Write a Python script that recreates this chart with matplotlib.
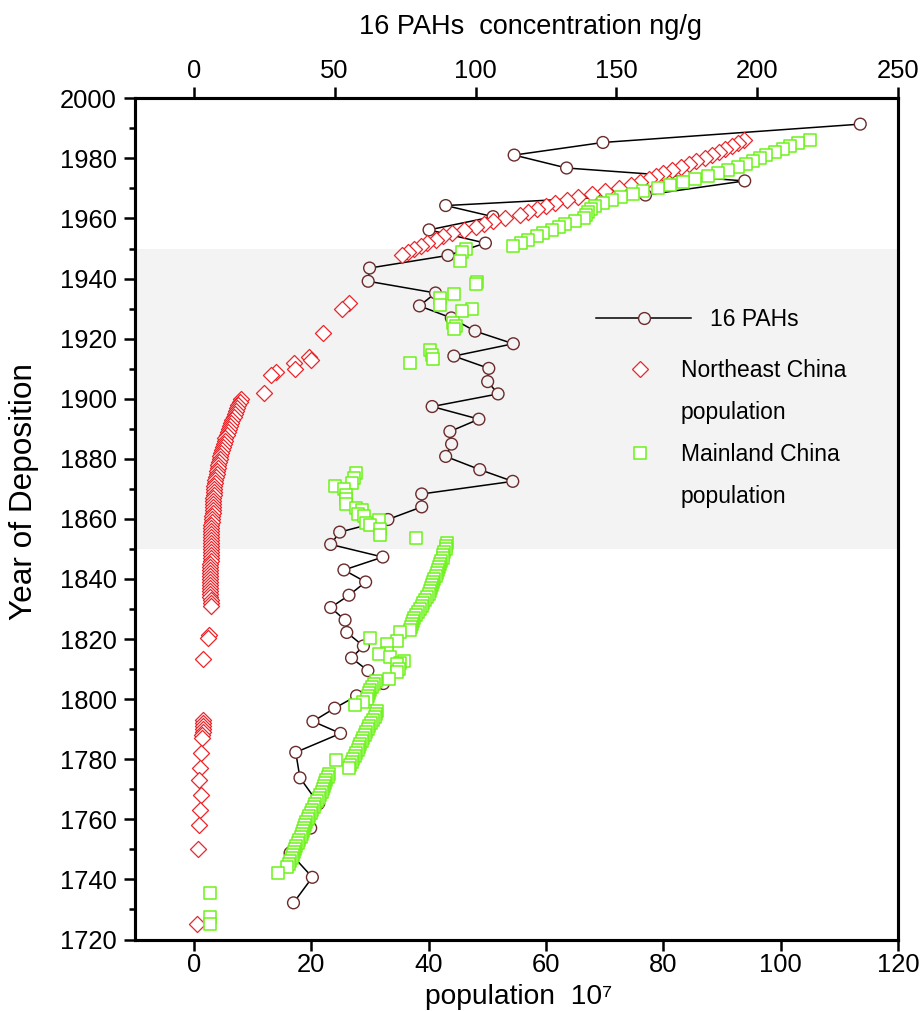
import numpy as np
import matplotlib
matplotlib.use("Agg")
import matplotlib.pyplot as plt
from matplotlib.lines import Line2D

plt.rcParams['font.family'] = ['Liberation Sans', 'DejaVu Sans']

# ---------------- data ----------------
# 16 PAHs concentration (ng/g) vs year of deposition (core order, top -> bottom)
pah_year = [1991.4, 1985.3, 1981.1, 1976.8, 1972.5, 1967.8, 1964.3, 1960.6, 1956.2, 1951.8,
            1947.7, 1943.5, 1939.1, 1935.2, 1930.9, 1926.9, 1922.5, 1918.3, 1914.2, 1910.1,
            1905.7, 1901.6, 1897.4, 1893.2, 1889.1, 1884.9, 1880.8, 1876.4, 1872.5, 1868.3,
            1864.0, 1859.8, 1855.6, 1851.5, 1847.3, 1843.0, 1839.0, 1834.6, 1830.5, 1826.3,
            1822.2, 1817.7, 1813.7, 1809.5, 1805.2, 1801.1, 1797.0, 1792.6, 1788.6, 1782.3,
            1773.8, 1765.2, 1757.1, 1748.8, 1740.7, 1732.2]
pah_conc = [236.5, 145.2, 113.7, 132.3, 195.5, 160.3, 89.4, 106.2, 83.5, 103.5,
            90.2, 62.4, 61.9, 85.8, 80.1, 91.4, 99.8, 113.4, 92.3, 104.7,
            104.3, 108.0, 84.6, 101.2, 90.9, 91.5, 89.4, 101.5, 113.2, 80.9,
            80.9, 68.9, 51.8, 48.6, 67.1, 53.3, 61.0, 55.1, 48.6, 53.7,
            54.3, 60.2, 56.0, 61.8, 67.3, 57.8, 50.0, 42.3, 52.1, 36.2,
            37.7, 44.3, 41.5, 34.2, 42.1, 35.4]

# Northeast China population (10^7)
ne_year = [1986, 1985, 1984, 1983, 1982, 1981, 1980, 1979, 1978, 1977,
           1976, 1975, 1974, 1973, 1972, 1971, 1970, 1969, 1968, 1967,
           1966, 1965, 1964, 1963, 1962, 1961, 1960, 1959, 1958, 1957,
           1956, 1955, 1954, 1953, 1952, 1951, 1950, 1949, 1948,
           1932, 1930, 1922, 1914, 1913, 1912, 1910, 1909, 1908, 1902,
           1900, 1899, 1898, 1897, 1896, 1895, 1894, 1893, 1892, 1891,
           1890, 1889, 1888, 1887, 1886, 1885, 1884, 1883, 1882, 1881,
           1880, 1879, 1878, 1877, 1876, 1875, 1874, 1873, 1872, 1871,
           1870, 1869, 1868, 1867, 1866, 1865, 1864, 1863, 1862, 1861,
           1860, 1859, 1858, 1857, 1856, 1855, 1854, 1853, 1852, 1851,
           1850, 1849, 1848, 1847, 1846, 1845, 1844, 1843, 1842, 1841,
           1840, 1839, 1838, 1837, 1836, 1835, 1834, 1833, 1832, 1831,
           1821.4, 1820.3, 1813.4,
           1793, 1792, 1791, 1790, 1789, 1788, 1787,
           1782, 1777, 1773, 1768, 1763, 1758, 1750, 1725]
ne_pop = [93.8, 92.7, 91.6, 90.5, 89.4, 88.2, 87.0, 85.6, 84.3, 83.0,
          81.5, 80.0, 78.8, 77.5, 76.0, 74.5, 72.5, 70.0, 67.8, 65.5,
          63.5, 61.5, 60.0, 58.5, 57.0, 55.5, 53.0, 51.0, 49.5, 48.0,
          46.0, 44.0, 42.5, 41.2, 39.8, 38.7, 37.5, 36.5, 35.5,
          26.4, 25.3, 22.1, 19.6, 19.9, 17.1, 17.2, 14.0, 13.1, 12.0,
          8.0, 7.8, 7.6, 7.4, 7.2, 7.0, 6.8, 6.6, 6.4, 6.2,
          6.0, 5.8, 5.6, 5.4, 5.3, 5.1, 5.0, 4.8, 4.7, 4.5,
          4.4, 4.3, 4.2, 4.1, 4.0, 3.9, 3.8, 3.7, 3.6, 3.5,
          3.5, 3.4, 3.4, 3.3, 3.3, 3.3, 3.2, 3.2, 3.2, 3.1,
          3.1, 3.1, 3.0, 3.0, 3.0, 3.0, 3.0, 2.9, 2.9, 2.9,
          2.9, 2.9, 2.9, 2.9, 2.9, 2.8, 2.8, 2.8, 2.8, 2.8,
          2.8, 2.8, 2.8, 2.8, 2.8, 2.8, 2.8, 2.9, 2.9, 2.9,
          2.6, 2.4, 1.6,
          1.6, 1.6, 1.5, 1.5, 1.5, 1.4, 1.4,
          1.2, 1.1, 0.9, 1.2, 1.1, 0.9, 0.8, 0.6]

# Mainland China population (10^7)
ml_year = [1986, 1985, 1984, 1983, 1982, 1981, 1980, 1979, 1978, 1977,
           1976, 1975, 1974, 1973, 1972, 1971, 1970, 1969, 1968, 1967,
           1966, 1965, 1964, 1963, 1962, 1961, 1960, 1959, 1958, 1957,
           1956, 1955, 1954, 1953, 1952, 1951,
           1950.0, 1948.8, 1946.0, 1938.9, 1938.3, 1935.0, 1933.4, 1931.2, 1930.0, 1929.1,
           1925.3, 1924.2, 1923.1, 1916.2, 1914.5, 1913.2, 1912.0,
           1875.3, 1873.6, 1872.0, 1870.9, 1869.8, 1867.9, 1866.5, 1864.8, 1863.7, 1863.1,
           1861.5, 1861.0, 1859.8, 1858.7, 1857.9, 1856.5, 1854.8, 1853.7,
           1852, 1851, 1850, 1849, 1848, 1847, 1846, 1845, 1844, 1843,
           1842, 1841, 1840, 1839, 1838, 1837, 1836, 1835, 1834, 1833,
           1832, 1831, 1830, 1829, 1828, 1827, 1826, 1825, 1824, 1823,
           1822.2, 1820.5, 1819.4, 1818.3, 1815.5, 1815.0, 1813.9, 1812.8, 1812.2, 1811.7,
           1810.0, 1808.9, 1806.7,
           1806, 1805, 1804, 1803, 1802, 1801, 1800, 1799, 1798,
           1796, 1795, 1794, 1793, 1792, 1791, 1790, 1789, 1788, 1787,
           1786, 1785, 1784, 1783, 1782, 1781, 1780, 1779.6, 1779, 1778, 1777,
           1775, 1774, 1773, 1772, 1771, 1770, 1769, 1768, 1767, 1766,
           1765, 1764, 1763, 1762, 1761, 1760, 1759, 1758, 1757, 1756,
           1755, 1754, 1753, 1752, 1751, 1750, 1749, 1748, 1747, 1746,
           1745, 1744, 1742.2,
           1735.4, 1727.6, 1725.1]
ml_pop = [105.0, 103.0, 101.5, 100.3, 99.0, 97.5, 96.5, 95.2, 94.0, 92.7,
          91.0, 89.3, 87.6, 85.4, 83.3, 81.2, 79.0, 76.5, 74.8, 72.7,
          71.2, 69.7, 68.3, 67.6, 67.2, 66.8, 66.5, 65.0, 63.3, 62.2,
          61.0, 59.5, 58.5, 57.0, 55.7, 54.4,
          46.3, 45.7, 45.4, 48.3, 48.0, 44.4, 42.0, 42.0, 47.4, 45.7,
          44.2, 44.6, 44.3, 40.3, 40.6, 40.8, 36.8,
          27.7, 27.3, 27.0, 24.0, 25.6, 25.9, 25.9, 25.9, 27.6, 28.7,
          27.9, 29.0, 31.5, 29.3, 30.0, 31.7, 31.8, 37.9,
          43.2, 43.0, 42.9, 42.7, 42.5, 42.4, 42.2, 42.0, 41.8, 41.6,
          41.4, 41.2, 41.0, 40.8, 40.6, 40.4, 40.2, 40.0, 39.7, 39.4,
          39.1, 38.8, 38.5, 38.2, 37.9, 37.6, 37.4, 37.2, 37.0, 36.8,
          35.2, 30.1, 34.7, 33.0, 33.0, 31.5, 33.5, 35.8, 35.2, 34.7,
          34.9, 34.7, 33.2,
          31.0, 30.7, 30.4, 30.1, 29.9, 29.7, 29.5, 28.8, 27.4,
          31.3, 31.0, 30.8, 30.5, 30.2, 29.9, 29.6, 29.4, 29.1, 28.9,
          28.6, 28.4, 28.1, 27.9, 27.6, 27.4, 27.2, 24.3, 26.9, 26.7, 26.4,
          23.0, 22.8, 22.6, 22.4, 22.2, 22.0, 21.8, 21.5, 21.3, 21.0,
          20.7, 20.5, 20.2, 20.0, 19.7, 19.5, 19.2, 19.0, 18.8, 18.6,
          18.4, 18.2, 18.0, 17.8, 17.5, 17.3, 17.1, 16.9, 16.7, 16.4,
          16.2, 15.9, 14.4,
          2.7, 2.7, 2.7]

band_years = (1850, 1950)
pop_ticks = [0, 20, 40, 60, 80, 100, 120]
conc_ticks = [0, 50, 100, 150, 200, 250]
year_ticks = list(range(1720, 2001, 20))

# ---------------- style ----------------
BAND = '#f3f3f3'
PAH_EDGE = '#6b2b2b'
RED = '#e8262b'
GREEN = '#6cf21a'
TICK_FS = 18.4

fig = plt.figure(figsize=(9.23, 10.11), dpi=100)
rect = [135 / 923, 1 - 939.5 / 1011, (898.3 - 135) / 923, (939.5 - 98.3) / 1011]

# bottom layer: concentration axis (top), band, PAHs
ax2 = fig.add_axes(rect)
ax2.set_xlim(-10 * 250 / 120, 250)
ax2.set_ylim(1720, 2000)
ax2.axhspan(band_years[0], band_years[1], color=BAND, lw=0, zorder=0)
py = np.array(pah_year)
pc = np.array(pah_conc)
ax2.plot(pc, py, color='black', lw=1.1, zorder=1)
faces = np.where((py >= band_years[0]) & (py <= band_years[1]), BAND, 'white')
ax2.scatter(pc, py, s=8.5 ** 2, marker='o', facecolors=faces, edgecolors=PAH_EDGE,
            linewidths=1.0, zorder=2)

# top layer: population axis (bottom) and year axis
ax = fig.add_axes(rect, sharey=ax2)
ax.patch.set_visible(False)
ax.set_xlim(-10, 120)
ax.set_ylim(1720, 2000)
ax.scatter(ne_pop, ne_year, s=8.2 ** 2, marker='D', facecolors='white', edgecolors=RED,
           linewidths=0.9, zorder=3)
ax.scatter(ml_pop, ml_year, s=8.4 ** 2, marker='s', facecolors='white', edgecolors=GREEN,
           linewidths=1.1, zorder=4)

# axes formatting
for a in (ax, ax2):
    for sp in a.spines.values():
        sp.set_linewidth(2.2)

ax.set_xticks(pop_ticks)
ax.set_yticks(year_ticks)
ax.set_yticks(list(range(1730, 2000, 20)), minor=True)
ax.tick_params(axis='y', which='major', direction='out', length=8, width=1.8,
               labelsize=TICK_FS, pad=5)
ax.tick_params(axis='x', which='major', direction='out', length=8, width=1.8,
               labelsize=TICK_FS, pad=2)
ax.tick_params(axis='y', which='minor', direction='out', length=4.3, width=1.8)
ax.tick_params(top=False, right=False, labeltop=False)

ax2.xaxis.tick_top()
ax2.xaxis.set_label_position('top')
ax2.set_xticks(conc_ticks)
ax2.tick_params(axis='x', which='major', direction='out', length=8, width=1.8,
                labelsize=TICK_FS, pad=3)
ax2.tick_params(axis='y', left=False, labelleft=False, right=False, labelright=False,
                which='both')

ax.set_ylabel('Year of Deposition', fontsize=22.7)
ax.yaxis.set_label_coords(-0.126, 0.532)
ax.set_xlabel('population  10\u2077', fontsize=20.3)
ax.xaxis.label.set_va('bottom')
ax.xaxis.set_label_coords(0.503, -(1010.5 - 939.5) / (939.5 - 98.3))
ax2.set_xlabel('16 PAHs  concentration ng/g', fontsize=19.5)
ax2.xaxis.set_label_coords(0.5175, 1.077)

# legends
LEG_FS = 16.5
h_pah = Line2D([], [], color='black', lw=1.1, marker='o', ms=8.5, mfc=BAND,
               mec=PAH_EDGE, mew=1.0)
leg1 = ax.legend([h_pah], ['16 PAHs'], loc='center left',
                 bbox_to_anchor=(596 / 923, 1 - 320 / 1011), bbox_transform=fig.transFigure,
                 frameon=False, fontsize=LEG_FS, handlelength=4.15, handletextpad=0.83,
                 borderpad=0, borderaxespad=0, numpoints=1)
ax.add_artist(leg1)

h_ne = Line2D([], [], ls='none', marker='D', ms=8.2, mfc='white', mec=RED, mew=0.9)
h_ml = Line2D([], [], ls='none', marker='s', ms=8.4, mfc='white', mec=GREEN, mew=1.1)
h_blank = Line2D([], [], ls='none', marker=None)
leg2 = ax.legend([h_ne, h_blank, h_ml, h_blank],
                 ['Northeast China', 'population', 'Mainland China', 'population'],
                 loc='center left', bbox_to_anchor=(628.5 / 923, 1 - 433.5 / 1011),
                 bbox_transform=fig.transFigure, frameon=False, fontsize=LEG_FS,
                 handlelength=1.0, handletextpad=1.29, borderpad=0, borderaxespad=0,
                 labelspacing=0.82, numpoints=1)

fig.savefig('out.png', dpi=100)
